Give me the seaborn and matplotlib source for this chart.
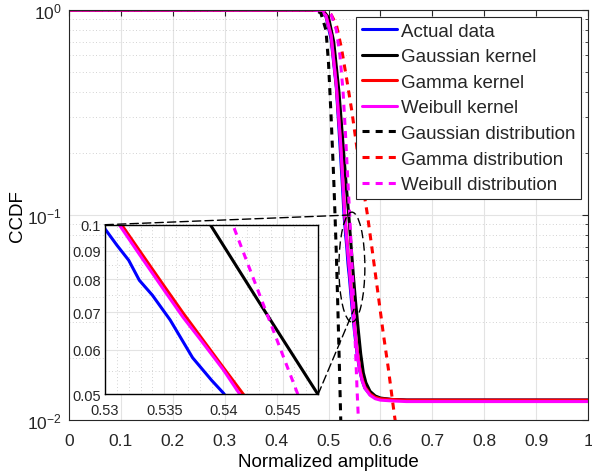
import numpy as np
import pandas as pd
import matplotlib
matplotlib.use('Agg')
import matplotlib.pyplot as plt
import seaborn as sns
from matplotlib.patches import Ellipse, ConnectionPatch
from matplotlib.ticker import FixedLocator, FixedFormatter, MultipleLocator, NullFormatter

# =============================================================================
# DATA
# =============================================================================

actual_x = [0.0, 0.47, 0.485, 0.495, 0.505, 0.515, 0.522, 0.527, 0.530, 0.531, 0.532,
            0.5329, 0.534, 0.5355, 0.5374, 0.539, 0.540, 0.545, 0.550, 0.555, 0.560,
            0.565, 0.570, 0.580, 0.590, 0.600, 0.620, 0.650, 0.700, 0.800, 1.000]
actual_y = [1.0, 1.0, 0.99, 0.93, 0.72, 0.42, 0.22, 0.135, 0.0983, 0.092, 0.0865,
            0.0797, 0.075, 0.0678, 0.0581, 0.053, 0.0503, 0.036, 0.027, 0.021, 0.0175,
            0.0155, 0.0143, 0.0133, 0.0129, 0.0127, 0.0126, 0.0125, 0.0125, 0.0125, 0.0125]

gauss_kernel_x = [0.0, 0.475, 0.49, 0.50, 0.51, 0.52, 0.528, 0.534, 0.5389, 0.543, 0.548,
                  0.552, 0.557, 0.562, 0.567, 0.572, 0.58, 0.59, 0.60, 0.62, 0.65, 1.0]
gauss_kernel_y = [1.0, 1.0, 0.99, 0.92, 0.70, 0.40, 0.22, 0.14, 0.1, 0.073, 0.05,
                  0.038, 0.028, 0.021, 0.017, 0.0152, 0.0138, 0.0131, 0.0128, 0.0126, 0.0125, 0.0125]

gamma_kernel_x = [0.0, 0.47, 0.485, 0.495, 0.505, 0.515, 0.523, 0.528, 0.5314, 0.533, 0.535,
                  0.5366, 0.538, 0.540, 0.5417, 0.545, 0.550, 0.555, 0.560, 0.565, 0.570,
                  0.580, 0.590, 0.600, 0.620, 0.650, 1.0]
gamma_kernel_y = [1.0, 1.0, 0.99, 0.94, 0.75, 0.43, 0.23, 0.14, 0.1, 0.0894, 0.0778,
                  0.0697, 0.0636, 0.0558, 0.050, 0.040, 0.029, 0.022, 0.018, 0.0158, 0.0145,
                  0.0134, 0.0129, 0.0127, 0.0126, 0.0125, 0.0125]

weib_kernel_x = [0.0, 0.47, 0.485, 0.495, 0.505, 0.515, 0.523, 0.528, 0.5312, 0.533, 0.535,
                 0.5366, 0.538, 0.540, 0.5414, 0.545, 0.550, 0.555, 0.560, 0.565, 0.570,
                 0.580, 0.590, 0.600, 0.620, 0.650, 1.0]
weib_kernel_y = [1.0, 1.0, 0.99, 0.94, 0.75, 0.43, 0.23, 0.14, 0.1, 0.088, 0.0765,
                 0.0685, 0.0628, 0.0553, 0.050, 0.039, 0.0285, 0.0215, 0.0175, 0.0155, 0.0143,
                 0.0132, 0.0127, 0.0125, 0.0124, 0.0123, 0.0123]

gauss_dist_x = [0.0, 0.47, 0.485, 0.495, 0.50, 0.505, 0.51, 0.5125, 0.515, 0.518, 0.521,
                0.524, 0.527]
gauss_dist_y = [1.0, 1.0, 0.97, 0.8, 0.55, 0.3, 0.15, 0.1, 0.065, 0.035, 0.018,
                0.009, 0.004]

gamma_dist_x = [0.0, 0.49, 0.505, 0.515, 0.525, 0.535, 0.545, 0.555, 0.565, 0.575, 0.585,
                0.595, 0.605, 0.615, 0.625, 0.635]
gamma_dist_y = [1.0, 1.0, 0.95, 0.85, 0.65, 0.46, 0.32, 0.21, 0.145, 0.1, 0.065,
                0.042, 0.027, 0.018, 0.0115, 0.0075]

weib_dist_x = [0.0, 0.48, 0.495, 0.505, 0.515, 0.522, 0.528, 0.533, 0.537, 0.5408, 0.5435,
               0.5463, 0.549, 0.552, 0.555, 0.558, 0.561]
weib_dist_y = [1.0, 1.0, 0.99, 0.95, 0.80, 0.6, 0.40, 0.24, 0.15, 0.1, 0.0711,
               0.05, 0.034, 0.022, 0.014, 0.0095, 0.006]

LABELS = ['Actual data', 'Gaussian kernel', 'Gamma kernel', 'Weibull kernel',
          'Gaussian distribution', 'Gamma distribution', 'Weibull distribution']
COLORS = ['#0000ff', '#000000', '#ff0000', '#ff00ff', '#000000', '#ff0000', '#ff00ff']
DASHED = [False, False, False, False, True, True, True]

SERIES = [(actual_x, actual_y), (gauss_kernel_x, gauss_kernel_y),
          (gamma_kernel_x, gamma_kernel_y), (weib_kernel_x, weib_kernel_y),
          (gauss_dist_x, gauss_dist_y), (gamma_dist_x, gamma_dist_y),
          (weib_dist_x, weib_dist_y)]

MAIN_XTICKS = [0, 0.1, 0.2, 0.3, 0.4, 0.5, 0.6, 0.7, 0.8, 0.9, 1.0]
MAIN_XLABELS = ['0', '0.1', '0.2', '0.3', '0.4', '0.5', '0.6', '0.7', '0.8', '0.9', '1']
INSET_XTICKS = [0.53, 0.535, 0.54, 0.545]
INSET_YTICKS = [0.05, 0.06, 0.07, 0.08, 0.09, 0.1]

# =============================================================================
# STYLE
# =============================================================================

sns.set_style('white')
plt.rcParams['font.family'] = ['Liberation Sans', 'DejaVu Sans']
plt.rcParams['mathtext.default'] = 'regular'
AX_COLOR = '#262626'
GRID_COLOR = '#e3e3e3'
MINOR_GRID = '#c4c4c4'
LW = 2.2
DASH = (0, (2.3, 2.0))


def draw_series(ax):
    for (xs, ys), label, color, dashed in zip(SERIES, LABELS, COLORS, DASHED):
        df = pd.DataFrame({'x': xs, 'y': ys})
        sns.lineplot(data=df, x='x', y='y', ax=ax, color=color, lw=LW,
                     linestyle=DASH if dashed else '-', label=label,
                     estimator=None, sort=False, legend=False)


def style_axes(ax, fs):
    for sp in ax.spines.values():
        sp.set_color(AX_COLOR)
        sp.set_linewidth(0.8)
    ax.tick_params(which='both', direction='in', top=True, right=True,
                   colors=AX_COLOR, labelcolor=AX_COLOR, labelsize=fs)
    ax.tick_params(which='major', length=4, width=0.8)
    ax.tick_params(which='minor', length=2.5, width=0.6)


fig = plt.figure(figsize=(5.92, 4.77), dpi=100)
ax = fig.add_axes([0.1166, 0.1174, 0.8767, 0.8595])

draw_series(ax)
ax.set_yscale('log')
ax.set_xlim(0, 1)
ax.set_ylim(0.01, 1)
ax.set_xticks(MAIN_XTICKS)
ax.set_xticklabels(MAIN_XLABELS)
ax.xaxis.set_minor_locator(FixedLocator([]))
ax.yaxis.set_major_locator(FixedLocator([0.01, 0.1, 1]))
ax.yaxis.set_major_formatter(FixedFormatter(['$10^{-2}$', '$10^{-1}$', '$10^{0}$']))
ax.yaxis.set_minor_locator(FixedLocator([k * 10.0 ** e for e in (-2, -1) for k in range(2, 10)]))
ax.yaxis.set_minor_formatter(NullFormatter())
ax.grid(True, which='major', color=GRID_COLOR, lw=0.8, ls='-')
ax.grid(True, which='minor', axis='y', color=MINOR_GRID, lw=0.6, ls=(0, (1, 3)))
ax.set_axisbelow(True)
style_axes(ax, 12.5)
ax.tick_params(axis='x', which='both', pad=9)
ax.tick_params(axis='y', which='both', pad=5)
ax.set_xlabel('Normalized amplitude', fontsize=13.5, color='black', labelpad=4)
ax.set_ylabel('CCDF', fontsize=13.5, color='black', labelpad=1)

handles = [plt.Line2D([], [], color=c, lw=LW, linestyle=DASH if d else '-')
           for c, d in zip(COLORS, DASHED)]
leg = ax.legend(handles, LABELS, loc='upper right', bbox_to_anchor=(0.987, 0.983),
                borderaxespad=0, fontsize=13.5, frameon=True, fancybox=False,
                framealpha=1, edgecolor=AX_COLOR, handlelength=1.9, handletextpad=0.2,
                labelspacing=0.45, borderpad=0.3)
leg.get_frame().set_linewidth(0.8)

# zoom ellipse on the main axes
ell = Ellipse((0.545, 0.373), 0.050, 0.268, transform=ax.transAxes, fill=False,
              ec='black', lw=1.0, ls=(0, (6, 3)), zorder=5)
ax.add_patch(ell)

# inset
axin = fig.add_axes([0.1774, 0.1709, 0.3598, 0.3559])
draw_series(axin)
axin.set_yscale('log')
axin.set_xlim(0.53, 0.548)
axin.set_ylim(0.05, 0.1)
axin.xaxis.set_major_locator(FixedLocator(INSET_XTICKS))
axin.xaxis.set_major_formatter(FixedFormatter(['0.53', '0.535', '0.54', '0.545']))
axin.xaxis.set_minor_locator(MultipleLocator(0.001))
axin.yaxis.set_major_locator(FixedLocator(INSET_YTICKS))
axin.yaxis.set_major_formatter(FixedFormatter(['0.05', '0.06', '0.07', '0.08', '0.09', '0.1']))
axin.yaxis.set_minor_locator(FixedLocator([0.055, 0.065, 0.075, 0.085, 0.095]))
axin.yaxis.set_minor_formatter(NullFormatter())
axin.xaxis.set_minor_formatter(NullFormatter())
axin.grid(True, which='major', color=GRID_COLOR, lw=0.8, ls='-')
axin.grid(True, which='minor', color=MINOR_GRID, lw=0.6, ls=(0, (1, 3)))
axin.set_axisbelow(True)
axin.set_xlabel('')
axin.set_ylabel('')
style_axes(axin, 10.5)
for sp in axin.spines.values():
    sp.set_color('black')
    sp.set_linewidth(1.0)
axin.tick_params(which='both', top=False, right=False)
axin.tick_params(axis='x', which='both', pad=6)
axin.tick_params(axis='y', which='both', pad=3)

# connector lines between inset and ellipse
for pa, pb in [((0, 1), (0.541, 0.50)), ((1, 0), (0.549, 0.27))]:
    con = ConnectionPatch(xyA=pa, coordsA=axin.transAxes, xyB=pb, coordsB=ax.transAxes,
                          color='black', lw=1.0, ls=(0, (6, 3)), zorder=6)
    fig.add_artist(con)

fig.savefig('out.png', dpi=100)
